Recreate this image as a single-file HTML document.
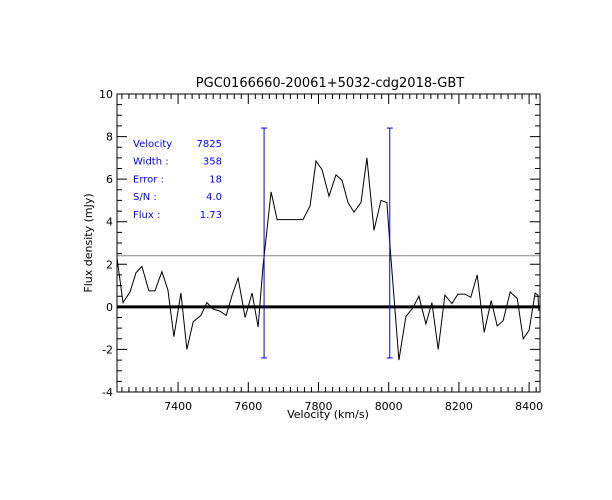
<!DOCTYPE html>
<html><head><meta charset="utf-8"><style>
body{margin:0;background:#fff;}
svg{display:block;font-family:"DejaVu Sans","Liberation Sans",sans-serif;}
</style></head><body>
<svg id="chart" width="612" height="500" viewBox="0 0 612 500">
<rect width="612" height="500" fill="#fff"/>
<g id="g"></g>
</svg>
<script>
const velocities=[7226,7243,7263,7280,7297,7317,7334,7354,7371,7388,7408,7425,7443,7465,7482,7500,7519,7537,7554,7571,7591,7611,7628,7642,7665,7682,7756,7776,7793,7810,7830,7850,7867,7884,7901,7921,7938,7958,7978,7995,8004,8029,8049,8069,8086,8106,8123,8141,8160,8180,8197,8217,8234,8252,8272,8292,8309,8326,8346,8366,8383,8400,8417,8425,8428];
const fluxValues=[2.3,0.2,0.7,1.6,1.9,0.75,0.75,1.65,0.8,-1.4,0.65,-2.0,-0.7,-0.4,0.2,-0.1,-0.2,-0.4,0.55,1.35,-0.5,0.65,-0.95,1.9,5.4,4.1,4.1,4.75,6.85,6.45,5.2,6.2,5.95,4.9,4.45,4.9,7.0,3.6,5.0,4.9,2.8,-2.5,-0.45,-0.05,0.5,-0.8,0.2,-2.0,0.55,0.15,0.6,0.6,0.45,1.5,-1.2,0.3,-0.9,-0.65,0.7,0.4,-1.5,-1.1,0.65,0.55,-0.2];
const xTicks=[7400,7600,7800,8000,8200,8400];
const yTicks=[-4,-2,0,2,4,6,8,10];
const markerVelocities=[7645,8003];
const markerRange=[-2.4,8.4];
const rmsLevel=[2.4];
const infoLabels=["Velocity","Width :","Error :","S/N :","Flux :"];
const infoValues=["7825","358","18","4.0","1.73"];
const X0=117,X1=540,Y0=94,Y1=392,VMIN=7226,VMAX=8431,FMIN=-4,FMAX=10;
const sx=v=>X0+(v-VMIN)/(VMAX-VMIN)*(X1-X0);
const sy=f=>Y1-(f-FMIN)/(FMAX-FMIN)*(Y1-Y0);
const NS="http://www.w3.org/2000/svg",g=document.getElementById('g');
function mk(t,a,txt){const e=document.createElementNS(NS,t);for(const k in a)e.setAttribute(k,a[k]);if(txt!=null)e.textContent=txt;g.appendChild(e);return e;}
let e;
// zero line
e=mk('line',{x1:X0,x2:X1,y1:sy(0),y2:sy(0),stroke:'#000','stroke-width':3});


rmsLevel.forEach(r=>{e=mk('line',{x1:X0,x2:X1,y1:sy(r),y2:sy(r),stroke:'#888','stroke-width':1});

});
// spectrum
e=mk('polyline',{points:velocities.map((v,i)=>sx(v).toFixed(1)+','+sy(fluxValues[i]).toFixed(1)).join(' '),fill:'none',stroke:'#000','stroke-width':1});


// markers
markerVelocities.forEach(v=>{const x=sx(v);
e=mk('line',{x1:x,x2:x,y1:sy(markerRange[0]),y2:sy(markerRange[1]),stroke:'#00f','stroke-width':1});


markerRange.forEach(f=>{e=mk('line',{x1:x-3,x2:x+3,y1:sy(f),y2:sy(f),stroke:'#00f'});

});});
// frame
e=mk('rect',{x:X0,y:Y0,width:X1-X0,height:Y1-Y0,fill:'none',stroke:'#000','stroke-width':1});


// x ticks
for(let v=7240;v<=8420;v+=20){const x=sx(v),maj=v%200===0,l=maj?10:5;
e=mk('path',{d:`M${x},${Y1}v${-l}M${x},${Y0}v${l}`,stroke:'#000','stroke-width':1});

}
xTicks.forEach(v=>{e=mk('text',{x:sx(v),y:Y1+18,'text-anchor':'middle','font-size':11},String(v));

});
for(let f=-4;f<=10;f+=0.5){const y=sy(f),maj=f%2===0,l=maj?10:5;
e=mk('path',{d:`M${X0},${y}h${l}M${X1},${y}h${-l}`,stroke:'#000','stroke-width':1});

}
yTicks.forEach(f=>{e=mk('text',{x:X0-4,y:sy(f)+4,'text-anchor':'end','font-size':11},String(f));

});
e=mk('text',{x:328,y:418,'text-anchor':'middle','font-size':11},'Velocity (km/s)');


e=mk('text',{x:0,y:0,'text-anchor':'middle','font-size':11,transform:`translate(92,243) rotate(-90)`},'Flux density (mJy)');


e=mk('text',{x:330,y:87,'text-anchor':'middle','font-size':13},'PGC0166660-20061+5032-cdg2018-GBT');


infoLabels.forEach((t,i)=>{const y=147+i*17.7;
e=mk('text',{x:133,y:y,'font-size':10,fill:'#00f'},t);


e=mk('text',{x:222,y:y,'font-size':10,fill:'#00f','text-anchor':'end'},infoValues[i]);

});
</script>
</body></html>
